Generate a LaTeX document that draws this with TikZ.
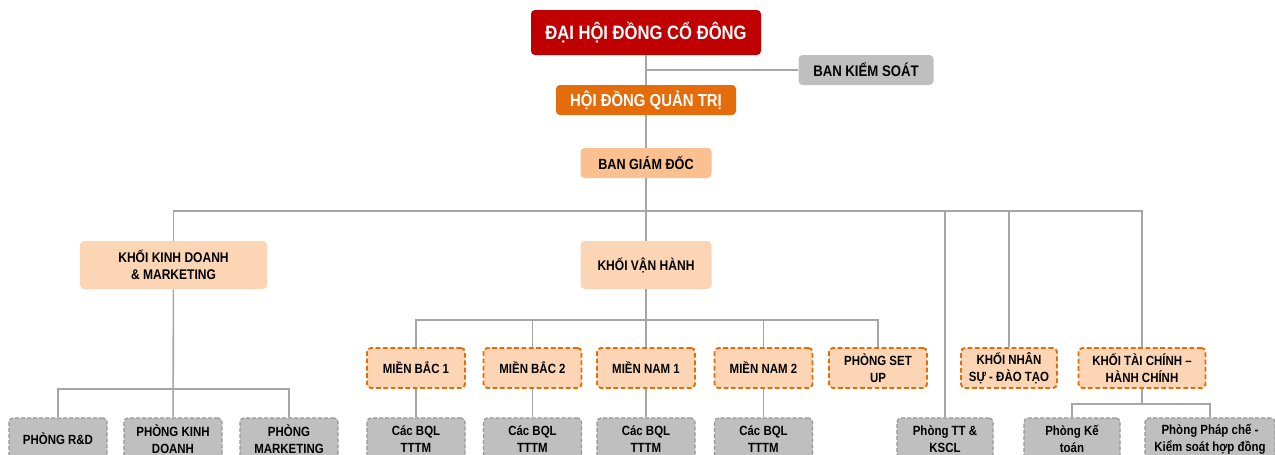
\documentclass[tikz,border=0pt]{standalone}
\usepackage{fontspec}
\setmainfont{Liberation Sans}[FakeStretch=0.86]
\definecolor{dhred}{HTML}{C00000}
\definecolor{hdorange}{HTML}{E46C0A}
\definecolor{peachdark}{HTML}{FAC090}
\definecolor{peach}{HTML}{FCD5B5}
\definecolor{boxgray}{HTML}{BFBFBF}
\definecolor{edgegray}{HTML}{969696}
\definecolor{linegray}{HTML}{A6A6A6}

\begin{document}
\begin{tikzpicture}[x=0.75pt, y=-0.75pt,
    box/.style={rounded corners=3pt, align=center, inner sep=0pt},
    topbox/.style={box, font=\bfseries\fontsize{11}{13}\selectfont},
    unitbox/.style={box, fill=peach, font=\bfseries\fontsize{10.5}{13}\selectfont, minimum height=36pt},
    deptbox/.style={box, fill=peach, draw=hdorange, line width=1.4pt, dash pattern=on 3.5pt off 2pt,
        font=\bfseries\fontsize{10}{12.5}\selectfont, minimum width=73.5pt, minimum height=30pt},
    subbox/.style={box, fill=boxgray, draw=edgegray, line width=0.9pt, dash pattern=on 3pt off 1.5pt,
        font=\bfseries\fontsize{10}{12.5}\selectfont, minimum width=73.5pt, minimum height=31.5pt},
    link/.style={draw=linegray, line width=1.2pt}]
    \clip (0,0) rectangle (1275,454);
    \fill[white] (0,0) rectangle (1275,454);

    \node[box, fill=dhred, text=white, font=\bfseries\fontsize{14.5}{17}\selectfont,
        minimum width=172.5pt, minimum height=33.75pt] (dhdcd) at (646,32.5) {ĐẠI HỘI ĐỒNG CỔ ĐÔNG};
    \node[topbox, fill=boxgray, font=\bfseries\fontsize{11.5}{13}\selectfont,
        minimum width=101.25pt, minimum height=22.5pt] (bks) at (866,70) {BAN KIỂM SOÁT};
    \node[topbox, fill=hdorange, text=white, font=\bfseries\fontsize{13}{15}\selectfont,
        minimum width=135pt, minimum height=22.5pt] (hdqt) at (646,100) {HỘI ĐỒNG QUẢN TRỊ};
    \node[topbox, fill=peachdark, minimum width=98.25pt, minimum height=22.5pt] (bgd) at (646,163) {BAN GIÁM ĐỐC};

    \node[unitbox, minimum width=140.25pt] (kdm) at (173.5,265) {KHỐI KINH DOANH\\\& MARKETING};
    \node[unitbox, minimum width=98.25pt] (kvh) at (646,265) {KHỐI VẬN HÀNH};

    \node[deptbox] (mb1) at (416,368) {MIỀN BẮC 1};
    \node[deptbox] (mb2) at (532.5,368) {MIỀN BẮC 2};
    \node[deptbox] (mn1) at (646,368) {MIỀN NAM 1};
    \node[deptbox] (mn2) at (763.5,368) {MIỀN NAM 2};
    \node[deptbox] (setup) at (878,368) {PHÒNG SET\\UP};
    \node[deptbox, minimum width=72pt] (kns) at (1009,368) {KHỐI NHÂN\\SỰ - ĐÀO TẠO};
    \node[deptbox, minimum width=95.25pt] (ktc) at (1142,368) {KHỐI TÀI CHÍNH –\\HÀNH CHÍNH};

    \node[subbox] (prd) at (58,439) {PHÒNG R\&D};
    \node[subbox] (pkd) at (173,439) {PHÒNG KINH\\DOANH};
    \node[subbox] (pmk) at (289,439) {PHÒNG\\MARKETING};
    \node[subbox] (bql1) at (416,439) {Các BQL\\TTTM};
    \node[subbox] (bql2) at (532.5,439) {Các BQL\\TTTM};
    \node[subbox] (bql3) at (646,439) {Các BQL\\TTTM};
    \node[subbox] (bql4) at (763.5,439) {Các BQL\\TTTM};
    \node[subbox, minimum width=72pt] (ptt) at (945,439) {Phòng TT \&\\KSCL};
    \node[subbox, minimum width=72pt] (pkt) at (1072,439) {Phòng Kế\\toán};
    \node[subbox, minimum width=97.5pt] (ppc) at (1210,439) {Phòng Pháp chế -\\Kiểm soát hợp đồng};

    \coordinate (kbr) at (646,70);
    \coordinate (bus1) at (646,211);
    \coordinate (bus2) at (646,320);
    \coordinate (bus3) at (173,389);
    \coordinate (bus4) at (1142,404);

    \draw[link] (dhdcd) -- (hdqt);
    \draw[link] (hdqt) -- (bgd);
    \draw[link] (kbr) -- (bks);
    \draw[link] (bgd) -- (kvh);
    \draw[link] (bus1) -| (kdm);
    \draw[link] (bus1) -| (ptt);
    \draw[link] (bus1) -| (kns);
    \draw[link] (bus1) -| (ktc);
    \draw[link] (kvh) -- (mn1);
    \foreach \d in {mb1,mb2,mn2,setup} \draw[link] (bus2) -| (\d);
    \draw[link] (mb1) -- (bql1);
    \draw[link] (mb2) -- (bql2);
    \draw[link] (mn1) -- (bql3);
    \draw[link] (mn2) -- (bql4);
    \draw[link] (kdm) -- (pkd);
    \draw[link] (bus3) -| (prd);
    \draw[link] (bus3) -| (pmk);
    \draw[link] (ktc) -- (bus4);
    \draw[link] (bus4) -| (pkt);
    \draw[link] (bus4) -| (ppc);
\end{tikzpicture}
\end{document}
